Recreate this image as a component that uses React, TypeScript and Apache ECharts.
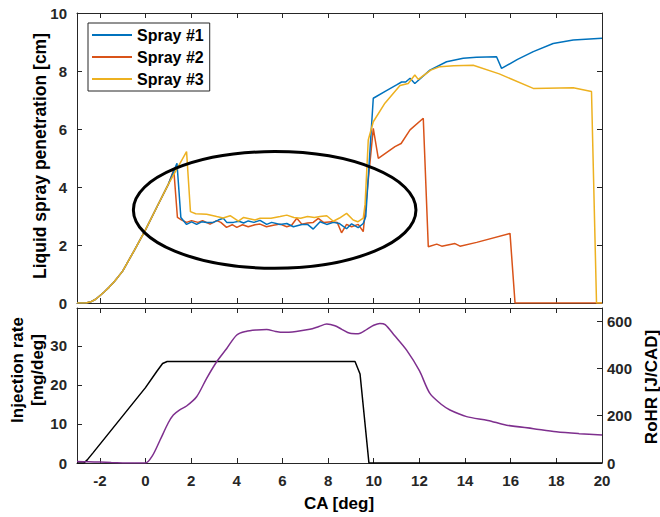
import React, { useEffect, useRef } from "react";
import * as echarts from "echarts";

const xTicks = [-2, 0, 2, 4, 6, 8, 10, 12, 14, 16, 18, 20];

const spray1: number[][] = [
  [-3, 0], [-2.6, 0], [-2.4, 0.04], [-2.2, 0.12], [-2.0, 0.25], [-1.8, 0.39], [-1.6, 0.54], [-1.4, 0.71], [-1.2, 0.9],
  [-1.0, 1.1], [-0.5, 1.8], [0, 2.52], [0.5, 3.31], [1.0, 4.09],
  [1.38, 4.82], [1.55, 2.95], [1.8, 2.71], [2.02, 2.8], [2.24, 2.71], [2.46, 2.8], [2.68, 2.78], [2.97, 2.78],
  [3.19, 2.86], [3.41, 2.92], [3.56, 2.78], [3.85, 2.78], [4.1, 2.82], [4.3, 2.76], [4.5, 2.83], [4.75, 2.78],
  [5.02, 2.85], [5.31, 2.71], [5.53, 2.78], [5.9, 2.71], [6.19, 2.74], [6.48, 2.63], [6.85, 2.71], [7.1, 2.71],
  [7.35, 2.55], [7.65, 2.8], [7.94, 2.71], [8.23, 2.78], [8.5, 2.74], [8.81, 2.56], [9.03, 2.73], [9.32, 2.6],
  [9.54, 2.74], [9.65, 2.98], [9.98, 7.06], [10.5, 7.3], [11.0, 7.52], [11.22, 7.62], [11.4, 7.62], [11.59, 7.75],
  [11.8, 7.57], [12.46, 8.03], [13.19, 8.32], [13.92, 8.44], [14.5, 8.47], [15.38, 8.49], [15.6, 8.09],
  [16.3, 8.4], [16.99, 8.67], [17.86, 8.95], [18.74, 9.07], [20, 9.13],
];

const spray2: number[][] = [
  [-3, 0], [-2.6, 0], [-2.4, 0.04], [-2.2, 0.12], [-2.0, 0.25], [-1.8, 0.39], [-1.6, 0.54], [-1.4, 0.71], [-1.2, 0.9],
  [-1.0, 1.1], [-0.5, 1.8], [0, 2.52], [0.5, 3.31], [1.0, 4.09],
  [1.24, 4.6], [1.4, 2.95], [1.59, 2.86], [1.8, 2.78], [2.02, 2.84], [2.3, 2.78], [2.5, 2.84], [2.83, 2.72],
  [3.12, 2.84], [3.3, 2.78], [3.55, 2.61], [3.8, 2.7], [4.0, 2.61], [4.25, 2.7], [4.5, 2.63], [4.8, 2.7],
  [5.02, 2.72], [5.3, 2.63], [5.6, 2.68], [5.9, 2.72], [6.19, 2.63], [6.4, 2.68], [6.63, 2.92], [6.85, 2.72],
  [7.1, 2.76], [7.35, 2.78], [7.57, 2.92], [7.8, 2.78], [8.16, 2.8], [8.4, 2.78], [8.59, 2.42], [8.81, 2.71],
  [9.03, 2.63], [9.32, 2.71], [9.54, 2.46], [9.98, 6.02], [10.2, 4.99], [10.93, 5.39], [11.2, 5.5],
  [11.59, 5.97], [12.17, 6.37], [12.39, 1.94], [12.76, 2.03], [12.98, 1.96], [13.56, 2.05], [13.78, 1.96],
  [14.51, 2.09], [15.97, 2.4], [16.19, 0], [20, 0],
];

const spray3: number[][] = [
  [-3, 0], [-2.6, 0], [-2.4, 0.04], [-2.2, 0.12], [-2.0, 0.25], [-1.8, 0.39], [-1.6, 0.54], [-1.4, 0.71], [-1.2, 0.9],
  [-1.0, 1.1], [-0.5, 1.8], [0, 2.52], [0.5, 3.31], [1.0, 4.09],
  [1.5, 4.8], [1.8, 5.22], [1.97, 3.15], [2.2, 3.08], [2.68, 3.06], [3.12, 2.98], [3.4, 2.93], [3.71, 3.01],
  [4.07, 2.82], [4.3, 2.95], [4.6, 2.9], [4.8, 2.86], [5.02, 2.92], [5.5, 2.92], [5.9, 2.98], [6.19, 3.03],
  [6.5, 2.95], [6.8, 2.92], [7.1, 2.98], [7.4, 2.95], [7.65, 2.98], [7.94, 3.01], [8.23, 2.82], [8.5, 2.93],
  [8.81, 3.09], [9.1, 2.86], [9.3, 2.8], [9.54, 2.93], [9.62, 3.4], [9.76, 5.62], [9.98, 6.25], [10.49, 6.89],
  [11.15, 7.5], [11.51, 7.57], [11.8, 7.86], [11.95, 7.71], [12.5, 8.03], [12.9, 8.15], [13.5, 8.18],
  [14.36, 8.2], [15.5, 7.9], [16.99, 7.4], [18.74, 7.42], [19.54, 7.29], [19.76, 0], [20, 0],
];

const injectionRate: number[][] = [
  [-3, 0], [-2.7, 0], [-2.55, 0.8], [-2.3, 2.6], [0, 19.3], [0.5, 23.5], [0.75, 25.5], [0.95, 26],
  [9.18, 26], [9.4, 22.8], [9.79, 0], [20, 0],
];

const rohr: number[][] = [
  [-3, 6], [-2.5, 5], [-2, 4], [-1.5, 2], [-1, 0.5], [-0.5, 0], [0, 0], [0.3, 30], [0.64, 97], [1.0, 170],
  [1.22, 203], [1.5, 225], [1.8, 241], [2.24, 280], [2.68, 358], [3.12, 428], [3.56, 484], [4.0, 541],
  [4.4, 556], [4.87, 562], [5.31, 564], [5.7, 556], [6.04, 552], [6.6, 556], [7.2, 565], [7.6, 577],
  [7.94, 587], [8.3, 580], [8.6, 565], [8.96, 548], [9.32, 546], [9.7, 565], [10.0, 582], [10.27, 590],
  [10.5, 585], [10.9, 540], [11.44, 477], [12.0, 390], [12.46, 294], [13.0, 245], [13.34, 224],
  [14.07, 196], [15.0, 180], [15.82, 160], [17.0, 145], [18.0, 132], [19.0, 124], [20, 118],
];

// ellipse annotation: center x, center y, radius x, radius y (data units)
const ellipse: number[][] = [[5.66, 3.21, 6.19, 2.01]];

const FONT = "'Liberation Sans', Arial, sans-serif";
const AX = "#262626";

export default function App() {
  const ref = useRef<HTMLDivElement>(null);
  useEffect(() => {
    if (!ref.current) return;
    const chart = echarts.init(ref.current, undefined, { renderer: "svg" });
    const tickLabel = { color: AX, fontWeight: "bold" as const, fontSize: 15, fontFamily: FONT };
    const xBase = (gridIndex: number, position: string, showLabel: boolean) => ({
      type: "value",
      gridIndex,
      position,
      min: -3,
      max: 20,
      axisLine: { show: true, onZero: false, lineStyle: { color: AX, width: 1 } },
      axisTick: { show: true, inside: true, length: 5, customValues: xTicks, lineStyle: { color: AX } },
      axisLabel: showLabel ? { ...tickLabel, margin: 10, customValues: xTicks } : { show: false, customValues: xTicks },
      splitLine: { show: false },
    });
    const yBase = (gridIndex: number, position: string, max: number, interval: number, showLabel: boolean, margin = 10) => ({
      type: "value",
      gridIndex,
      position,
      min: 0,
      max,
      interval,
      axisLine: { show: true, onZero: false, lineStyle: { color: AX, width: 1 } },
      axisTick: { show: true, inside: true, length: 5, lineStyle: { color: AX } },
      axisLabel: showLabel ? { ...tickLabel, margin, showMaxLabel: max % interval === 0 } : { show: false },
      splitLine: { show: false },
    });
    const option: any = {
      animation: false,
      backgroundColor: "#fff",
      grid: [
        { left: 77, top: 13, width: 525, height: 290 },
        { left: 77, top: 308, width: 525, height: 155 },
      ],
      xAxis: [
        xBase(0, "bottom", false),
        xBase(0, "top", false),
        xBase(1, "bottom", true),
        xBase(1, "top", false),
      ],
      yAxis: [
        yBase(0, "left", 10, 2, true),
        yBase(0, "right", 10, 2, false),
        yBase(1, "left", 39.7, 10, true),
        yBase(1, "right", 655, 200, true, 5),
      ],
      legend: {
        data: [
          { name: "Spray #1", icon: "rect", itemStyle: { color: "#0072BD" } },
          { name: "Spray #2", icon: "rect", itemStyle: { color: "#D95319" } },
          { name: "Spray #3", icon: "rect", itemStyle: { color: "#EDB120" } },
        ],
        orient: "vertical",
        left: 88,
        top: 23,
        padding: [4, 6, 4, 4],
        itemGap: 6,
        itemWidth: 40,
        itemHeight: 2,
        borderColor: "#262626",
        borderWidth: 1,
        backgroundColor: "#fff",
        textStyle: { color: "#000", fontWeight: "bold", fontSize: 16, fontFamily: FONT, lineHeight: 16 },
      },
      series: [
        {
          name: "Spray #1", type: "line", xAxisIndex: 0, yAxisIndex: 0, data: spray1,
          symbol: "none", lineStyle: { color: "#0072BD", width: 1.5 }, itemStyle: { color: "#0072BD" }, z: 3,
        },
        {
          name: "Spray #2", type: "line", xAxisIndex: 0, yAxisIndex: 0, data: spray2,
          symbol: "none", lineStyle: { color: "#D95319", width: 1.5 }, itemStyle: { color: "#D95319" }, z: 2,
        },
        {
          name: "Spray #3", type: "line", xAxisIndex: 0, yAxisIndex: 0, data: spray3,
          symbol: "none", lineStyle: { color: "#EDB120", width: 1.5 }, itemStyle: { color: "#EDB120" }, z: 4,
        },
        {
          name: "region", type: "custom", xAxisIndex: 0, yAxisIndex: 0, data: ellipse, z: 10, clip: false,
          encode: { x: 0, y: 1 },
          renderItem: (_p: any, api: any) => {
            const c = api.coord([api.value(0), api.value(1)]);
            const s = api.size([api.value(2), api.value(3)]);
            return {
              type: "ellipse",
              shape: { cx: c[0], cy: c[1], rx: s[0], ry: s[1] },
              style: { fill: "none", stroke: "#000", lineWidth: 3 },
            };
          },
        },
        {
          name: "Injection rate", type: "line", xAxisIndex: 2, yAxisIndex: 2, data: injectionRate,
          symbol: "none", lineStyle: { color: "#000", width: 1.5 }, itemStyle: { color: "#000" },
        },
        {
          name: "RoHR", type: "line", xAxisIndex: 2, yAxisIndex: 3, data: rohr, smooth: 0.3,
          symbol: "none", lineStyle: { color: "#7E2F8E", width: 1.5 }, itemStyle: { color: "#7E2F8E" },
        },
      ],
      graphic: [
        {
          type: "text", x: 40, y: 156, rotation: Math.PI / 2,
          style: { text: "Liquid spray penetration [cm]", fill: "#000", font: `bold 17.5px ${FONT}`, textAlign: "center", textVerticalAlign: "middle" },
        },
        {
          type: "text", x: 27, y: 370, rotation: Math.PI / 2,
          style: { text: "Injection rate\n[mg/deg]", fill: "#000", font: `bold 17px ${FONT}`, lineHeight: 20, textAlign: "center", textVerticalAlign: "middle" },
        },
        {
          type: "text", x: 651, y: 387, rotation: Math.PI / 2,
          style: { text: "RoHR [J/CAD]", fill: "#000", font: `bold 17px ${FONT}`, textAlign: "center", textVerticalAlign: "middle" },
        },
        {
          type: "text", x: 339, y: 503,
          style: { text: "CA [deg]", fill: "#000", font: `bold 17px ${FONT}`, textAlign: "center", textVerticalAlign: "middle" },
        },
      ],
    };
    chart.setOption(option);
    return () => chart.dispose();
  }, []);
  return <div ref={ref} style={{ width: 660, height: 517, position: "absolute", left: 0, top: 0 }} />;
}
